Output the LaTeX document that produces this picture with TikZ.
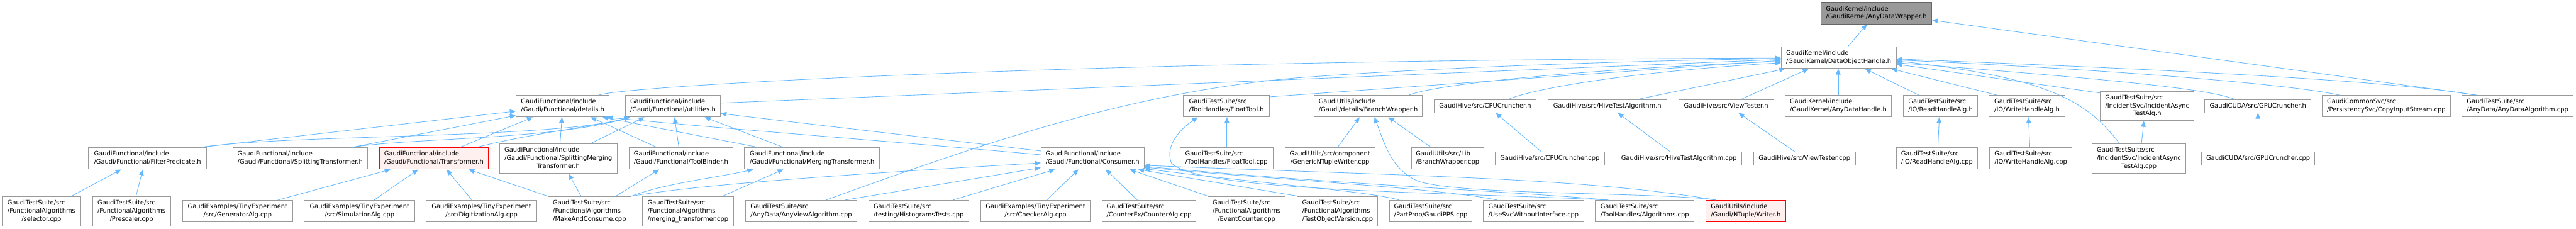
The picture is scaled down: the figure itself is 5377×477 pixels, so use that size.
\documentclass[tikz,border=0pt]{standalone}
\usepackage{fontspec}
\setmainfont{DejaVu Sans}
\usetikzlibrary{arrows.meta}
\definecolor{edgec}{HTML}{63B8FF}
\definecolor{boxc}{HTML}{999999}
\definecolor{rootfill}{HTML}{999999}
\definecolor{rootdraw}{HTML}{666666}
\definecolor{redfill}{HTML}{FFF0F0}
\definecolor{reddraw}{HTML}{FF0000}
\newcommand\on[1]{\begin{tabular}{@{}l@{}}#1\end{tabular}}
\newcommand\tw[2]{\begin{tabular}{@{}l@{}}#1\\\multicolumn{1}{@{}c@{}}{#2}\end{tabular}}
\newcommand\thr[3]{\begin{tabular}{@{}l@{}}#1\\#2\\\multicolumn{1}{@{}c@{}}{#3}\end{tabular}}
\newcommand\nd[7][]{\node[filebox,#1,minimum width={(#3-#2)*1pt},minimum height={(#5-#4)*1pt}] (#6) at ({(#2+#3)/2},{(#4+#5)/2}) {#7};}
\begin{document}
\begin{tikzpicture}[x=1pt,y=-1pt,
  filebox/.style={draw=boxc,fill=white,line width=1.3pt,inner sep=0pt,anchor=center,font=\fontsize{13}{16.7}\selectfont},
  root/.style={draw=rootdraw,fill=rootfill},
  redn/.style={draw=reddraw,fill=redfill},
  edge/.style={draw=edgec,line width=1.1pt,-{Triangle[length=12pt,width=10pt]}}]
\useasboundingbox[fill=white] (0,0) rectangle (5377,477);
% row 1-2
\nd[root]{3801}{4032}{5}{50}{adw}{\tw{GaudiKernel/include}{/GaudiKernel/AnyDataWrapper.h}}
\nd{3718}{3958}{98}{143}{doh}{\tw{GaudiKernel/include}{/GaudiKernel/DataObjectHandle.h}}
% row 3
\nd{1077}{1272}{199}{244}{details}{\tw{GaudiFunctional/include}{/Gaudi/Functional/details.h}}
\nd{1305}{1504}{199}{244}{utilities}{\tw{GaudiFunctional/include}{/Gaudi/Functional/utilities.h}}
\nd{2470}{2650}{199}{244}{floattoolh}{\tw{GaudiTestSuite/src}{/ToolHandles/FloatTool.h}}
\nd{2743}{2969}{199}{244}{branchwrapperh}{\tw{GaudiUtils/include}{/Gaudi/details/BranchWrapper.h}}
\nd{2994}{3206}{208}{235}{cpucrh}{\on{GaudiHive/src/CPUCruncher.h}}
\nd{3231}{3479}{208}{235}{hivetesth}{\on{GaudiHive/src/HiveTestAlgorithm.h}}
\nd{3504}{3702}{208}{235}{viewtesterh}{\on{GaudiHive/src/ViewTester.h}}
\nd{3726}{3948}{199}{244}{anydatahandle}{\tw{GaudiKernel/include}{/GaudiKernel/AnyDataHandle.h}}
\nd{3973}{4128}{199}{244}{readh}{\tw{GaudiTestSuite/src}{/IO/ReadHandleAlg.h}}
\nd{4152}{4310}{199}{244}{writeh}{\tw{GaudiTestSuite/src}{/IO/WriteHandleAlg.h}}
\nd{4384}{4580}{191}{252}{incasynch}{\thr{GaudiTestSuite/src}{/IncidentSvc/IncidentAsync}{TestAlg.h}}
\nd{4602}{4824}{208}{235}{gpucrh}{\on{GaudiCUDA/src/GPUCruncher.h}}
\nd{4847}{5115}{199}{244}{copyinput}{\tw{GaudiCommonSvc/src}{/PersistencySvc/CopyInputStream.cpp}}
\nd{5139}{5371}{199}{244}{anydataalg}{\tw{GaudiTestSuite/src}{/AnyData/AnyDataAlgorithm.cpp}}
% row 4
\nd{185}{431}{308}{353}{filterpred}{\tw{GaudiFunctional/include}{/Gaudi/Functional/FilterPredicate.h}}
\nd{486}{767}{308}{353}{splittrans}{\tw{GaudiFunctional/include}{/Gaudi/Functional/SplittingTransformer.h}}
\nd[redn]{792}{1019}{308}{353}{transformer}{\tw{GaudiFunctional/include}{/Gaudi/Functional/Transformer.h}}
\nd{1043}{1288}{300}{362}{splitmerge}{\thr{GaudiFunctional/include}{/Gaudi/Functional/SplittingMerging}{Transformer.h}}
\nd{1313}{1530}{308}{353}{toolbinder}{\tw{GaudiFunctional/include}{/Gaudi/Functional/ToolBinder.h}}
\nd{1554}{1836}{308}{353}{mergingtrans}{\tw{GaudiFunctional/include}{/Gaudi/Functional/MergingTransformer.h}}
\nd{2173}{2388}{308}{353}{consumer}{\tw{GaudiFunctional/include}{/Gaudi/Functional/Consumer.h}}
\nd{2463}{2657}{308}{353}{floattoolcpp}{\tw{GaudiTestSuite/src}{/ToolHandles/FloatTool.cpp}}
\nd{2682}{2870}{308}{353}{genntuple}{\tw{GaudiUtils/src/component}{/GenericNTupleWriter.cpp}}
\nd{2946}{3097}{308}{353}{bwcpp}{\tw{GaudiUtils/src/Lib}{/BranchWrapper.cpp}}
\nd{3121}{3349}{317}{345}{cpucrcpp}{\on{GaudiHive/src/CPUCruncher.cpp}}
\nd{3373}{3636}{317}{345}{hivetestcpp}{\on{GaudiHive/src/HiveTestAlgorithm.cpp}}
\nd{3660}{3873}{317}{345}{viewtestercpp}{\on{GaudiHive/src/ViewTester.cpp}}
\nd{3958}{4128}{308}{353}{readcpp}{\tw{GaudiTestSuite/src}{/IO/ReadHandleAlg.cpp}}
\nd{4153}{4325}{308}{353}{writecpp}{\tw{GaudiTestSuite/src}{/IO/WriteHandleAlg.cpp}}
\nd{4367}{4562}{300}{362}{incasynccpp}{\thr{GaudiTestSuite/src}{/IncidentSvc/IncidentAsync}{TestAlg.cpp}}
\nd{4595}{4832}{317}{345}{gpucrcpp}{\on{GaudiCUDA/src/GPUCruncher.cpp}}
% row 5
\nd{5}{168}{410}{472}{selector}{\thr{GaudiTestSuite/src}{/FunctionalAlgorithms}{/selector.cpp}}
\nd{193}{356}{410}{472}{prescaler}{\thr{GaudiTestSuite/src}{/FunctionalAlgorithms}{/Prescaler.cpp}}
\nd{381}{611}{418}{463}{generator}{\tw{GaudiExamples/TinyExperiment}{/src/GeneratorAlg.cpp}}
\nd{635}{866}{418}{463}{simulation}{\tw{GaudiExamples/TinyExperiment}{/src/SimulationAlg.cpp}}
\nd{890}{1120}{418}{463}{digitization}{\tw{GaudiExamples/TinyExperiment}{/src/DigitizationAlg.cpp}}
\nd{1144}{1317}{410}{472}{makeconsume}{\thr{GaudiTestSuite/src}{/FunctionalAlgorithms}{/MakeAndConsume.cpp}}
\nd{1341}{1531}{410}{472}{mergingcpp}{\thr{GaudiTestSuite/src}{/FunctionalAlgorithms}{/merging\_transformer.cpp}}
\nd{1556}{1789}{418}{463}{anyview}{\tw{GaudiTestSuite/src}{/AnyData/AnyViewAlgorithm.cpp}}
\nd{1813}{2022}{418}{463}{histtests}{\tw{GaudiTestSuite/src}{/testing/HistogramsTests.cpp}}
\nd{2047}{2276}{418}{463}{checker}{\tw{GaudiExamples/TinyExperiment}{/src/CheckerAlg.cpp}}
\nd{2301}{2496}{418}{463}{counter}{\tw{GaudiTestSuite/src}{/CounterEx/CounterAlg.cpp}}
\nd{2521}{2683}{410}{472}{eventcounter}{\thr{GaudiTestSuite/src}{/FunctionalAlgorithms}{/EventCounter.cpp}}
\nd{2708}{2876}{410}{472}{testobjver}{\thr{GaudiTestSuite/src}{/FunctionalAlgorithms}{/TestObjectVersion.cpp}}
\nd{2900}{3073}{418}{463}{gaudipps}{\tw{GaudiTestSuite/src}{/PartProp/GaudiPPS.cpp}}
\nd{3096}{3306}{418}{463}{usesvc}{\tw{GaudiTestSuite/src}{/UseSvcWithoutInterface.cpp}}
\nd{3330}{3536}{418}{463}{toolalgs}{\tw{GaudiTestSuite/src}{/ToolHandles/Algorithms.cpp}}
\nd[redn]{3561}{3727}{418}{463}{writer}{\tw{GaudiUtils/include}{/Gaudi/NTuple/Writer.h}}
% edges to AnyDataWrapper
\draw[edge] (doh.north -| 3857,0) -- (adw.south -| 3897,0);
\draw[edge] (anydataalg.north -| 5170,0) -- (adw.east |- 0,42);
% edges to DataObjectHandle
\draw[edge] (details.north -| 1250,0) .. controls (1300,180) and (2200,126) .. (doh.west |- 0,121);
\draw[edge] (anyview.north -| 1724,0) .. controls (2050,300) and (2350,195) .. (2700,163) .. controls (3000,140) and (3400,127) .. (doh.west |- 0,122);
\draw[edge] (utilities.east |- 0,215) -- (doh.west |- 0,124);
\draw[edge] (floattoolh.east |- 0,202) -- (doh.west |- 0,126);
\draw[edge] (branchwrapperh.north -| 2941,0) .. controls (3000,175) and (3300,145) .. (doh.west |- 0,128);
\draw[edge] (cpucrh.north -| 3148,0) .. controls (3200,185) and (3400,150) .. (doh.west |- 0,131);
\draw[edge] (hivetesth.north -| 3418,0) -- (doh.south -| 3726,0);
\draw[edge] (viewtesterh.north -| 3634,0) -- (doh.south -| 3775,0);
\draw[edge] (anydatahandle.north -| 3837,0) -- (doh.south -| 3837,0);
\draw[edge] (readh.north -| 4005,0) -- (doh.south -| 3893,0);
\draw[edge] (writeh.north -| 4168,0) -- (doh.south -| 3948,0);
\draw[edge] (incasynch.west |- 0,194) -- (doh.east |- 0,134);
\draw[edge] (incasynccpp.north -| 4424,0) .. controls (4350,200) and (4250,160) .. (doh.east |- 0,127);
\draw[edge] (gpucrh.north -| 4665,0) .. controls (4620,190) and (4500,172) .. (doh.east |- 0,131);
\draw[edge] (copyinput.north -| 4883,0) .. controls (4800,180) and (4500,150) .. (doh.east |- 0,125);
\draw[edge] (anydataalg.north -| 5166,0) .. controls (5000,170) and (4600,148) .. (doh.east |- 0,123);
% edges to details / utilities
\draw[edge] (filterpred.north -| 419,0) -- (details.west |- 0,232);
\draw[edge] (filterpred.north -| 419,0) .. controls (600,280) and (1150,290) .. (utilities.south -| 1315,0);
\draw[edge] (splittrans.north -| 735,0) -- (details.west |- 0,241);
\draw[edge] (splittrans.north -| 735,0) .. controls (850,288) and (1150,292) .. (utilities.south -| 1315,0);
\draw[edge] (transformer.north -| 960,0) -- (details.south -| 1112,0);
\draw[edge] (transformer.north -| 995,0) .. controls (1100,280) and (1250,262) .. (utilities.south -| 1315,0);
\draw[edge] (splitmerge.north -| 1169,0) -- (details.south -| 1173,0);
\draw[edge] (splitmerge.north -| 1233,0) -- (utilities.south -| 1345,0);
\draw[edge] (toolbinder.north -| 1371,0) -- (details.south -| 1233,0);
\draw[edge] (toolbinder.north -| 1417,0) -- (utilities.south -| 1408,0);
\draw[edge] (mergingtrans.north -| 1583,0) -- (details.south -| 1258,0);
\draw[edge] (mergingtrans.north -| 1635,0) -- (utilities.south -| 1471,0);
\draw[edge] (consumer.west |- 0,323) .. controls (1900,298) and (1500,268) .. (details.south -| 1267,0);
\draw[edge] (consumer.west |- 0,315) -- (utilities.east |- 0,237);
% edges to Transformer.h etc.
\draw[edge] (generator.north -| 580,0) -- (transformer.south -| 815,0);
\draw[edge] (simulation.north -| 781,0) -- (transformer.south -| 873,0);
\draw[edge] (digitization.north -| 985,0) -- (transformer.south -| 932,0);
\draw[edge] (makeconsume.north west) -- (transformer.south -| 978,0);
\draw[edge] (makeconsume.north -| 1213,0) -- (splitmerge.south -| 1187,0);
\draw[edge] (makeconsume.north -| 1285,0) -- (toolbinder.south -| 1376,0);
\draw[edge] (makeconsume.north east) .. controls (1390,382) and (1500,370) .. (mergingtrans.south -| 1572,0);
\draw[edge] (makeconsume.north east) .. controls (1420,392) and (1620,372) .. (consumer.west |- 0,340);
\draw[edge] (mergingcpp.north -| 1508,0) -- (mergingtrans.south -| 1635,0);
% edges to Consumer.h
\draw[edge] (anyview.north -| 1764,0) -- (consumer.west |- 0,350);
\draw[edge] (histtests.north -| 1989,0) -- (consumer.south -| 2202,0);
\draw[edge] (checker.north -| 2185,0) -- (consumer.south -| 2251,0);
\draw[edge] (counter.north -| 2374,0) -- (consumer.south -| 2308,0);
\draw[edge] (eventcounter.north -| 2522,0) -- (consumer.south -| 2358,0);
\draw[edge] (testobjver.north -| 2710,0) -- (consumer.south -| 2376,0);
\draw[edge] (gaudipps.north -| 2921,0) .. controls (2850,398) and (2650,385) .. (consumer.east |- 0,352);
\draw[edge] (usesvc.north -| 3125,0) .. controls (3000,392) and (2700,378) .. (consumer.east |- 0,349);
\draw[edge] (toolalgs.north -| 3357,0) .. controls (3200,402) and (2800,385) .. (consumer.east |- 0,347);
\draw[edge] (writer.north -| 3582,0) .. controls (3300,370) and (2950,368) .. (consumer.east |- 0,345);
% other edges
\draw[edge] (toolalgs.north -| 3357,0) .. controls (3000,400) and (2500,400) .. (2445,340) .. controls (2430,300) and (2470,265) .. (floattoolh.south -| 2500,0);
\draw[edge] (floattoolcpp.north -| 2561,0) -- (floattoolh.south -| 2561,0);
\draw[edge] (genntuple.north -| 2792,0) -- (branchwrapperh.south -| 2838,0);
\draw[edge] (bwcpp.north -| 2987,0) -- (branchwrapperh.south -| 2898,0);
\draw[edge] (writer.north -| 3582,0) .. controls (3450,400) and (3050,408) .. (2960,378) .. controls (2905,355) and (2890,300) .. (branchwrapperh.south -| 2869,0);
\draw[edge] (cpucrcpp.north -| 3217,0) -- (cpucrh.south -| 3122,0);
\draw[edge] (hivetestcpp.north -| 3486,0) -- (hivetesth.south -| 3377,0);
\draw[edge] (viewtestercpp.north -| 3746,0) -- (viewtesterh.south -| 3629,0);
\draw[edge] (readcpp.north -| 4045,0) -- (readh.south -| 4048,0);
\draw[edge] (writecpp.north -| 4237,0) -- (writeh.south -| 4234,0);
\draw[edge] (incasynccpp.north -| 4470,0) -- (incasynch.south -| 4475,0);
\draw[edge] (gpucrcpp.north -| 4713,0) -- (gpucrh.south -| 4713,0);
\draw[edge] (selector.north -| 149,0) -- (filterpred.south -| 253,0);
\draw[edge] (prescaler.north -| 284,0) -- (filterpred.south -| 298,0);
\end{tikzpicture}
\end{document}
